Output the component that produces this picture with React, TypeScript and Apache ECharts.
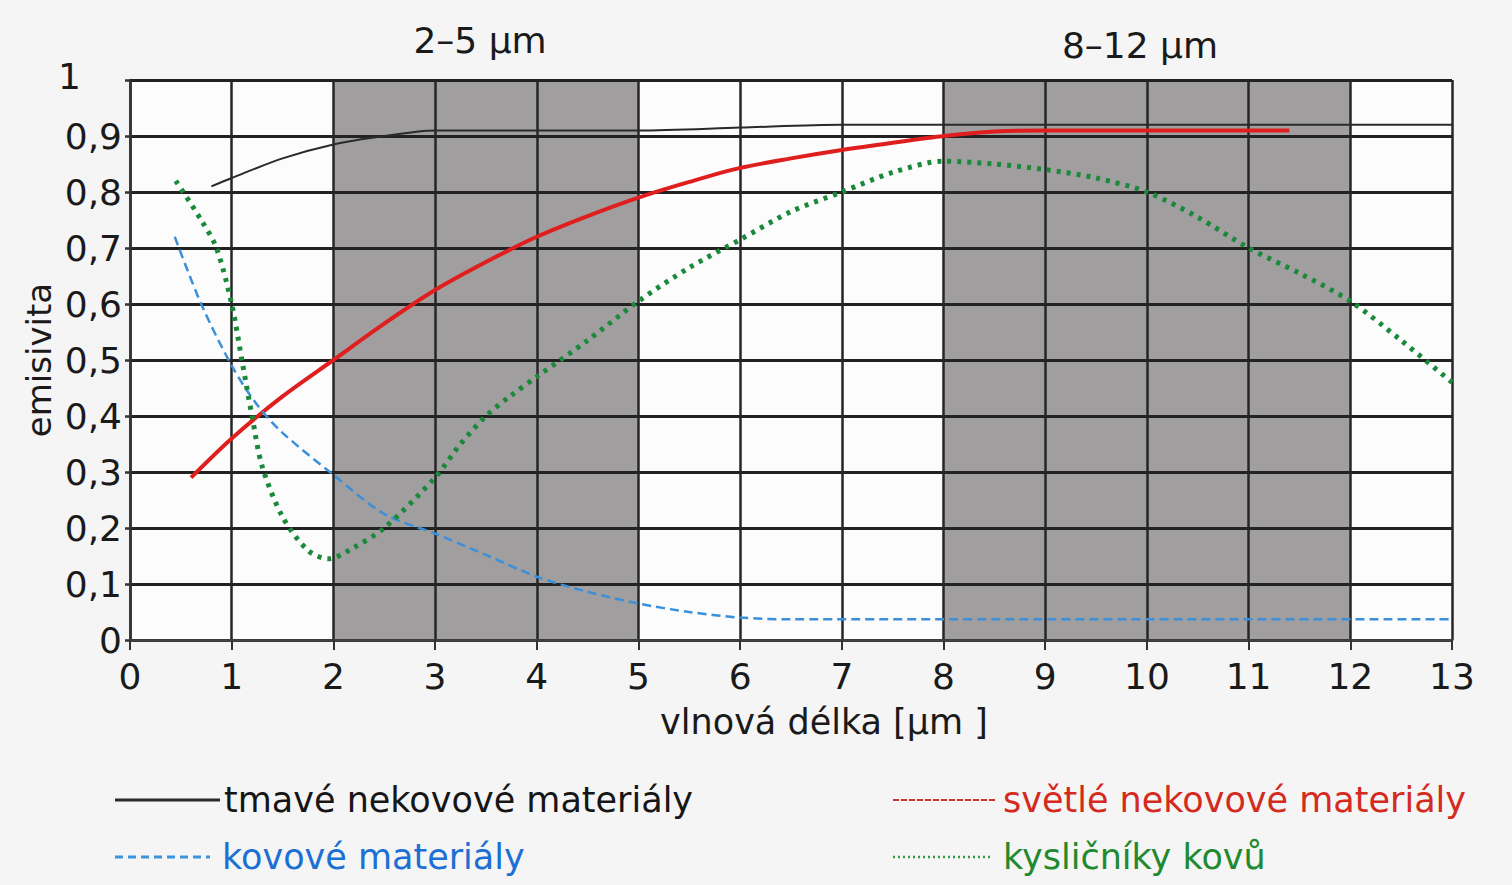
import React, { useEffect, useRef } from "react";
import * as echarts from "echarts";

// ---- data ----
const xTicks = [0, 1, 2, 3, 4, 5, 6, 7, 8, 9, 10, 11, 12, 13];
const bandStarts = [2, 8];
const bandEnds = [5, 12];
const bandTitles = ["2–5 µm", "8–12 µm"];

const darkX = [0.8, 1.0, 1.5, 2.0, 2.5, 3.0, 4.0, 5.0, 6.0, 7.0, 13.0];
const darkY = [0.81, 0.825, 0.86, 0.885, 0.9, 0.91, 0.91, 0.91, 0.915, 0.92, 0.92];

const lightX = [0.6, 1.0, 1.5, 2.0, 2.5, 3.0, 3.5, 4.0, 4.5, 5.0, 5.5, 6.0, 6.5, 7.0, 7.5, 8.0, 8.5, 9.0, 11.4];
const lightY = [0.29, 0.36, 0.435, 0.5, 0.565, 0.625, 0.675, 0.72, 0.757, 0.79, 0.818, 0.843, 0.86, 0.875, 0.888, 0.9, 0.908, 0.91, 0.91];

const metalX = [0.44, 0.7, 1.0, 1.25, 1.5, 2.0, 2.5, 3.0, 3.5, 4.0, 4.5, 5.0, 5.5, 6.0, 6.5, 13.0];
const metalY = [0.72, 0.6, 0.49, 0.42, 0.37, 0.295, 0.225, 0.19, 0.152, 0.113, 0.086, 0.065, 0.05, 0.04, 0.037, 0.037];

const oxideX = [0.45, 0.7, 0.85, 1.0, 1.1, 1.2, 1.3, 1.5, 1.75, 1.95, 2.2, 2.5, 3.0, 3.25, 3.5, 3.75, 4.0, 4.5, 5.0, 5.5, 6.0, 6.5, 7.0, 7.5, 8.0, 8.5, 9.0, 9.5, 10.0, 10.5, 11.0, 11.5, 12.0, 12.5, 13.0];
const oxideY = [0.82, 0.75, 0.7, 0.6, 0.5, 0.4, 0.31, 0.22, 0.16, 0.145, 0.165, 0.2, 0.29, 0.35, 0.4, 0.437, 0.47, 0.535, 0.605, 0.665, 0.715, 0.765, 0.8, 0.835, 0.855, 0.85, 0.84, 0.825, 0.8, 0.755, 0.7, 0.655, 0.605, 0.535, 0.46];

const seriesNames = [
  "tmavé nekovové materiály",
  "světlé nekovové materiály",
  "kovové materiály",
  "kysličníky kovů",
];

const pairs = (xs: number[], ys: number[]) => xs.map((x, i) => [x, ys[i]]);

const FONT = "DejaVu Sans";

export default function App() {
  const ref = useRef<HTMLDivElement>(null);

  useEffect(() => {
    if (!ref.current) return;
    const chart = echarts.init(ref.current, null, { renderer: "svg" });

    const legendItems = [
      { x1: 115, x2: 220, y: 800, tx: 224, color: "#2a2a2a", textColor: "#161616", dash: "solid" as any, w: 3, name: seriesNames[0] },
      { x1: 893, x2: 995, y: 800, tx: 1003, color: "#d8322a", textColor: "#d42a20", dash: [6, 2], w: 2, name: seriesNames[1] },
      { x1: 115, x2: 210, y: 857, tx: 222, color: "#3b93dc", textColor: "#1c6fd4", dash: [8, 5], w: 3, name: seriesNames[2] },
      { x1: 893, x2: 990, y: 857, tx: 1003, color: "#2e9a48", textColor: "#1f8a30", dash: [2, 3], w: 2.5, name: seriesNames[3] },
    ];

    const graphic: any[] = [];
    legendItems.forEach((it) => {
      graphic.push({
        type: "line",
        shape: { x1: it.x1, y1: it.y, x2: it.x2, y2: it.y },
        style: { stroke: it.color, lineWidth: it.w, lineDash: it.dash },
      });
      graphic.push({
        type: "text",
        x: it.tx,
        y: it.y,
        style: {
          text: it.name,
          fill: it.textColor,
          font: `35px "${FONT}"`,
          textVerticalAlign: "middle",
          verticalAlign: "middle",
        },
      });
    });
    const titleCenters = [480, 1140];
    const titleYs = [40, 45];
    bandTitles.forEach((t, i) => {
      graphic.push({
        type: "text",
        x: titleCenters[i],
        y: titleYs[i],
        style: {
          text: t,
          fill: "#1a1a1a",
          font: `36px "${FONT}"`,
          align: "center",
          textAlign: "center",
          verticalAlign: "middle",
          textVerticalAlign: "middle",
        },
      });
    });

    const lineBase = {
      type: "line",
      showSymbol: false,
      symbol: "none",
      smooth: 0.3,
      z: 3,
      silent: true,
    };

    chart.setOption({
      animation: false,
      backgroundColor: "#f5f5f5",
      grid: {
        left: 130,
        right: 60,
        top: 80,
        bottom: 245,
        show: true,
        backgroundColor: "#fcfcfc",
        borderWidth: 0,
      },
      xAxis: {
        type: "value",
        min: xTicks[0],
        max: xTicks[xTicks.length - 1],
        interval: 1,
        z: 2,
        name: "vlnová délka [µm ]",
        nameLocation: "middle",
        nameGap: 64,
        nameTextStyle: {
          fontFamily: FONT,
          fontSize: 35,
          color: "#1a1a1a",
          padding: [0, 0, 0, 66],
        },
        axisLine: { show: true, lineStyle: { color: "#444", width: 2.5 } },
        axisTick: { show: true, length: 10, lineStyle: { color: "#333", width: 2 } },
        axisLabel: {
          fontFamily: FONT,
          fontSize: 36,
          color: "#1a1a1a",
          margin: 18,
        },
        splitLine: { show: true, lineStyle: { color: "#262626", width: 2.5 } },
      },
      yAxis: {
        type: "value",
        min: 0,
        max: 1,
        interval: 0.1,
        z: 2,
        name: "emisivita",
        nameLocation: "middle",
        nameRotate: 90,
        nameGap: 74,
        nameMoveOverlap: false,
        nameTextStyle: { fontFamily: FONT, fontSize: 34, color: "#1a1a1a" },
        axisLine: { show: true, lineStyle: { color: "#333", width: 2.5 } },
        axisTick: { show: true, length: 5, lineStyle: { color: "#333", width: 2.5 } },
        axisLabel: {
          fontFamily: FONT,
          fontSize: 36,
          color: "#1a1a1a",
          margin: 8,
          formatter: (v: number) => {
            if (v === 0) return "0";
            if (Math.abs(v - 1) < 1e-9) return "{one|1}";
            return v.toFixed(1).replace(".", ",");
          },
          rich: {
            one: { fontFamily: FONT, fontSize: 36, color: "#1a1a1a", padding: [0, 41, 8, 0] },
          },
        },
        splitLine: { show: true, lineStyle: { color: "#222", width: 3 } },
      },
      graphic,
      series: [
        {
          type: "custom",
          name: "bands",
          z: 1,
          silent: true,
          data: bandStarts.map((s, i) => [s, bandEnds[i], 0, 1]),
          encode: { x: [0, 1], y: [2, 3] },
          renderItem: (params: any, api: any) => {
            const p0 = api.coord([api.value(0), api.value(3)]);
            const p1 = api.coord([api.value(1), api.value(2)]);
            return {
              type: "rect",
              shape: { x: p0[0], y: p0[1], width: p1[0] - p0[0], height: p1[1] - p0[1] },
              style: { fill: "#a09e9e" },
            };
          },
        },
        {
          ...lineBase,
          name: seriesNames[0],
          data: pairs(darkX, darkY),
          lineStyle: { color: "#2a2a2a", width: 2 },
        },
        {
          ...lineBase,
          name: seriesNames[1],
          data: pairs(lightX, lightY),
          lineStyle: { color: "#e01e1e", width: 4 },
        },
        {
          ...lineBase,
          name: seriesNames[2],
          data: pairs(metalX, metalY),
          lineStyle: { color: "#3a90da", width: 2.5, type: [9, 5] },
        },
        {
          ...lineBase,
          name: seriesNames[3],
          data: pairs(oxideX, oxideY),
          lineStyle: { color: "#1a8a3a", width: 5, type: [4, 6] },
        },
      ],
    });

    return () => chart.dispose();
  }, []);

  return (
    <div
      ref={ref}
      style={{ position: "absolute", left: 0, top: 0, width: 1512, height: 885 }}
    />
  );
}
